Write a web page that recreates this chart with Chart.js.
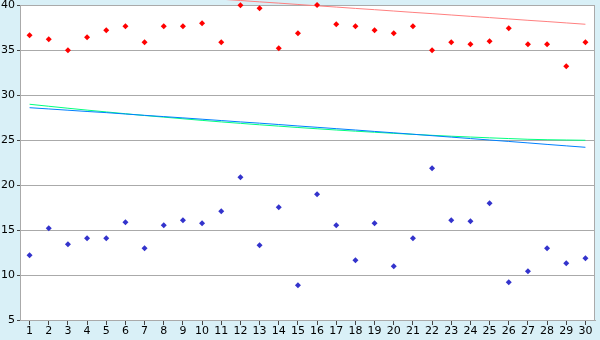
<!DOCTYPE html>
<html>
<head>
<meta charset="utf-8">
<style>
  html, body { margin: 0; padding: 0; background: #d9f0f7; }
  canvas { display: block; }
</style>
<script src="https://cdn.jsdelivr.net/npm/chart.js@4/dist/chart.umd.min.js"></script>
</head>
<body>
<canvas id="c" width="600" height="340"></canvas>
<script>
const categories = ['1','2','3','4','5','6','7','8','9','10','11','12','13','14','15','16','17','18','19','20','21','22','23','24','25','26','27','28','29','30'];

const redPoints = [36.63, 36.19, 34.96, 36.41, 37.19, 37.63, 35.85, 37.63, 37.63, 37.96,
                   35.85, 39.96, 39.63, 35.19, 36.85, 40.0, 37.85, 37.63, 37.19, 36.85,
                   37.63, 34.96, 35.85, 35.63, 35.96, 37.41, 35.63, 35.63, 33.19, 35.85];

const bluePoints = [12.19, 15.19, 13.41, 14.07, 14.07, 15.85, 12.97, 15.52, 16.08, 15.74,
                    17.08, 20.86, 13.30, 17.52, 8.86, 18.97, 15.52, 11.63, 15.74, 10.97,
                    14.07, 21.85, 16.08, 15.97, 17.97, 9.19, 10.41, 12.97, 11.30, 11.86];

const redTrend = [42.11, 41.96, 41.82, 41.67, 41.52, 41.38, 41.23, 41.09, 40.94, 40.79,
                  40.65, 40.50, 40.35, 40.21, 40.06, 39.91, 39.77, 39.62, 39.48, 39.33,
                  39.18, 39.04, 38.89, 38.74, 38.60, 38.45, 38.30, 38.16, 38.01, 37.86];

const greenTrend = [28.97, 28.75, 28.53, 28.32, 28.12, 27.92, 27.72, 27.54, 27.36, 27.18,
                    27.01, 26.85, 26.69, 26.54, 26.39, 26.25, 26.11, 25.98, 25.86, 25.74,
                    25.63, 25.52, 25.42, 25.33, 25.24, 25.16, 25.08, 25.03, 25.00, 24.97];

const blueTrend = [28.59, 28.45, 28.31, 28.17, 28.04, 27.89, 27.74, 27.60, 27.46, 27.31,
                   27.16, 27.01, 26.87, 26.72, 26.56, 26.41, 26.26, 26.11, 25.95, 25.80,
                   25.64, 25.48, 25.32, 25.16, 25.00, 24.84, 24.68, 24.51, 24.35, 24.19];

const yTicks = [5, 10, 15, 20, 25, 30, 35, 40];

const bgPlugin = {
  id: 'bg',
  beforeDraw(chart) {
    const ctx = chart.ctx, a = chart.chartArea;
    ctx.save();
    ctx.fillStyle = '#d9f0f7';
    ctx.fillRect(0, 0, chart.width, chart.height);
    ctx.fillStyle = '#ffffff';
    ctx.fillRect(a.left, a.top, a.right - a.left, a.bottom - a.top);
    ctx.restore();
  },
  beforeDatasetsDraw(chart) {
    const ctx = chart.ctx, a = chart.chartArea;
    ctx.save();
    ctx.strokeStyle = '#aaaaaa';
    ctx.lineWidth = 1;
    ctx.beginPath();
    ctx.moveTo(Math.round(a.right) - 0.5, a.top);
    ctx.lineTo(Math.round(a.right) - 0.5, a.bottom);
    ctx.stroke();
    ctx.restore();
  }
};

const ptCommon = { showLine: false, pointStyle: 'rectRot', pointRadius: 3, pointBorderWidth: 0, clip: false };
const lnCommon = { pointRadius: 0, borderWidth: 1, fill: false, tension: 0, clip: false };

new Chart(document.getElementById('c'), {
  type: 'line',
  data: {
    labels: categories,
    datasets: [
      Object.assign({ data: redPoints, backgroundColor: '#ff0000', borderColor: '#ff0000' }, ptCommon),
      Object.assign({ data: bluePoints, backgroundColor: '#3333cc', borderColor: '#3333cc' }, ptCommon),
      Object.assign({ data: redTrend, borderColor: '#ff8080' }, lnCommon),
      Object.assign({ data: blueTrend, borderColor: '#0080ff' }, lnCommon),
      Object.assign({ data: greenTrend, borderColor: '#00ff80' }, lnCommon)
    ]
  },
  options: {
    responsive: false,
    animation: false,
    layout: { padding: { top: 5, right: 5, left: 0, bottom: 0 } },
    plugins: { legend: { display: false }, tooltip: { enabled: false } },
    scales: {
      x: {
        offset: true,
        grid: { offset: false, drawOnChartArea: false, drawTicks: true, tickLength: 5, tickColor: '#444444', color: '#aaaaaa' },
        border: { color: '#aaaaaa' },
        ticks: { color: '#000000', font: { family: 'DejaVu Sans', size: 11 }, padding: 0, maxRotation: 0, autoSkip: false },
        afterFit(s) { s.height = 20; s.paddingLeft = 0; s.paddingRight = 0; }
      },
      y: {
        min: 5, max: 40,
        afterBuildTicks(s) { s.ticks = yTicks.map(v => ({ value: v })); },
        grid: { color: '#aaaaaa', tickLength: 3, tickColor: '#444444' },
        border: { color: '#aaaaaa' },
        ticks: { color: '#000000', font: { family: 'DejaVu Sans', size: 11 }, padding: 2 },
        afterFit(s) { s.width = 20; s.paddingTop = 0; s.paddingBottom = 0; }
      }
    }
  },
  plugins: [bgPlugin]
});
</script>
</body>
</html>
